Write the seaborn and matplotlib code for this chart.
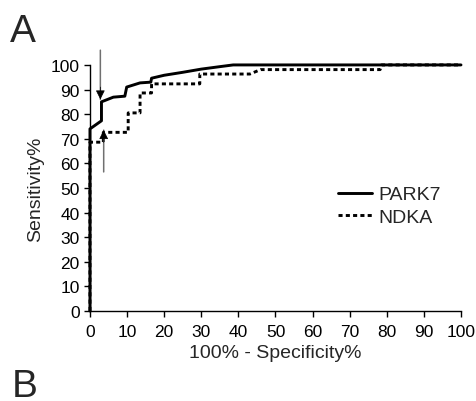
import numpy as np
import pandas as pd
import matplotlib
matplotlib.use("Agg")
import matplotlib.pyplot as plt
import seaborn as sns

# ── Data ─────────────────────────────────────────────────────
park7_fpr = [0, 0, 3.1, 3.1, 6.3, 9.4, 9.9, 13.5, 16.4, 16.6, 20, 25, 30, 35, 38.6, 100]
park7_sens = [0, 74, 77.3, 85, 86.9, 87.3, 91, 92.7, 93, 94.6, 95.8, 97, 98.3, 99.3, 100, 100]

ndka_fpr = [0, 0, 3.6, 3.6, 10.3, 10.3, 13.5, 13.5, 16.6, 16.6, 29.6, 29.6,
            43.1, 46, 78.2, 78.6, 100]
ndka_sens = [0, 68.6, 68.6, 72.6, 72.6, 80.5, 80.5, 88.6, 88.6, 92.3, 92.3, 96.3,
             96.3, 98.1, 98.1, 100, 100]

series_names = ["PARK7", "NDKA"]
ticks = list(range(0, 101, 10))

# cut-off arrows: (x, tail y, tip y)
arrows = [(2.8, 106, 86), (3.7, 56.5, 73.5)]

df = pd.concat([
    pd.DataFrame({"fpr": park7_fpr, "sens": park7_sens, "marker": "PARK7"}),
    pd.DataFrame({"fpr": ndka_fpr, "sens": ndka_sens, "marker": "NDKA"}),
], ignore_index=True)

# ── Figure ───────────────────────────────────────────────────
sns.set_style("ticks")
plt.rcParams['font.family'] = ['Liberation Sans', 'DejaVu Sans']

fig = plt.figure(figsize=(4.76, 4.02), dpi=100)
ax = fig.add_axes([0.189, 0.224, 0.7795, 0.612])

sns.lineplot(data=df, x="fpr", y="sens", hue="marker", style="marker",
             hue_order=series_names, style_order=series_names,
             palette=["black", "black"],
             dashes={"PARK7": "", "NDKA": (1.4, 1.1)},
             estimator=None, sort=False, linewidth=2.1, ax=ax,
             clip_on=False, zorder=3)

ax.set_xlim(0, 100)
ax.set_ylim(0, 100)
ax.set_xticks(ticks)
ax.set_yticks(ticks)
ax.tick_params(labelsize=12.5, length=4.3, width=1, colors="black", pad=3)
ax.tick_params(axis="x", pad=5)
for s in ["left", "bottom"]:
    ax.spines[s].set_linewidth(1)
    ax.spines[s].set_color("black")
sns.despine(ax=ax)
ax.set_xlabel("100% - Specificity%", fontsize=14, labelpad=4)
ax.set_ylabel("Sensitivity%", fontsize=14, labelpad=5)

# gray shafts with black heads
for x, y0, y1 in arrows:
    ax.annotate("", xy=(x, y1), xytext=(x, y0), annotation_clip=False,
                arrowprops=dict(arrowstyle="-", color="#707070", lw=1.1,
                                shrinkA=0, shrinkB=0))
    head_start = y1 + np.sign(y0 - y1) * 5
    ax.annotate("", xy=(x, y1), xytext=(x, head_start), annotation_clip=False,
                arrowprops=dict(arrowstyle="-|>", color="black", lw=0.5,
                                mutation_scale=14, shrinkA=0, shrinkB=0),
                zorder=5)

leg = ax.legend(title=None, frameon=False, fontsize=14, loc="upper left",
                bbox_to_anchor=(0.62, 0.58), handlelength=1.75,
                handletextpad=0.35, labelspacing=0.25)

fig.text(0.02, 0.8955, "A", fontsize=28)
fig.text(0.025, 0.012, "B", fontsize=28)

fig.savefig("out.png", dpi=100)
